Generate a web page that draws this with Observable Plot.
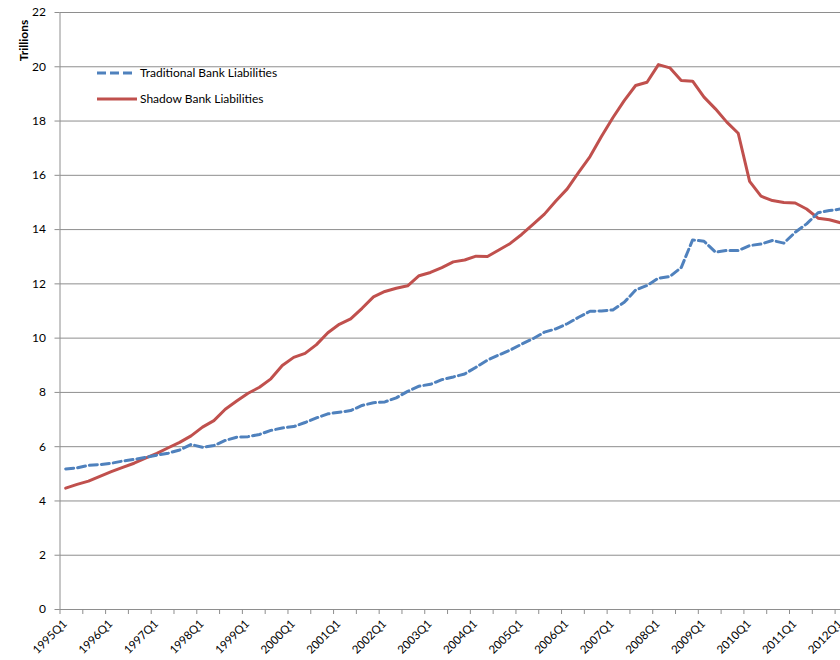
<!DOCTYPE html>
<html>
<head>
<meta charset="utf-8">
<script src="https://cdn.jsdelivr.net/npm/d3@7"></script>
<script src="https://cdn.jsdelivr.net/npm/@observablehq/plot@0.6"></script>
<style>
  html, body { margin: 0; padding: 0; background: #fff; }
  #wrap { width: 840px; height: 660px; overflow: hidden; position: relative; }
  #wrap svg { max-width: none !important; }
</style>
</head>
<body>
<div id="wrap"></div>
<script>
// ---- data ----
const startYear = 1995;
const quarterNames = ["Q1", "Q2", "Q3", "Q4"];
const traditional = [
  5.18, 5.22, 5.31, 5.34, 5.39, 5.47, 5.53, 5.61, 5.69, 5.76, 5.88, 6.08,
  5.98, 6.04, 6.23, 6.35, 6.37, 6.45, 6.60, 6.69, 6.74, 6.89, 7.06, 7.21,
  7.27, 7.33, 7.52, 7.62, 7.65, 7.80, 8.04, 8.23, 8.30, 8.47, 8.57, 8.68,
  8.93, 9.19, 9.38, 9.56, 9.78, 9.98, 10.22, 10.34, 10.53, 10.77, 10.99, 11.00,
  11.04, 11.32, 11.77, 11.94, 12.21, 12.27, 12.60, 13.62, 13.57, 13.17, 13.23, 13.23,
  13.41, 13.47, 13.60, 13.50, 13.90, 14.21, 14.62, 14.70, 14.76
];
const shadow = [
  4.47, 4.61, 4.73, 4.91, 5.08, 5.24, 5.39, 5.58, 5.75, 5.96, 6.16, 6.40,
  6.72, 6.96, 7.38, 7.68, 7.97, 8.19, 8.50, 8.99, 9.29, 9.44, 9.76, 10.20,
  10.51, 10.71, 11.10, 11.52, 11.72, 11.84, 11.93, 12.30, 12.42, 12.60, 12.81, 12.88,
  13.02, 13.01, 13.25, 13.49, 13.82, 14.19, 14.57, 15.05, 15.50, 16.11, 16.69, 17.43,
  18.12, 18.75, 19.31, 19.43, 20.08, 19.96, 19.49, 19.47, 18.88, 18.45, 17.96, 17.55,
  15.78, 15.23, 15.07, 15.00, 14.98, 14.76, 14.42, 14.36, 14.25
];
const categories = traditional.map((_, i) => `${startYear + Math.floor(i / 4)}${quarterNames[i % 4]}`);
const tickLabels = ["1995Q1","1996Q1","1997Q1","1998Q1","1999Q1","2000Q1","2001Q1","2002Q1","2003Q1",
  "2004Q1","2005Q1","2006Q1","2007Q1","2008Q1","2009Q1","2010Q1","2011Q1","2012Q1"];
const yTicks = [0, 2, 4, 6, 8, 10, 12, 14, 16, 18, 20, 22];
const seriesNames = ["Traditional Bank Liabilities", "Shadow Bank Liabilities"];

// ---- build table ----
const rows = [];
traditional.forEach((v, i) => rows.push({i, q: categories[i], value: v, series: seriesNames[0]}));
shadow.forEach((v, i) => rows.push({i, q: categories[i], value: v, series: seriesNames[1]}));
const labelIdx = tickLabels.map(t => categories.indexOf(t));
const boundaries = d3.range(-0.5, categories.length, 2);

const BLUE = "#4F81BD", RED = "#C0504D", GRID = "#8e8e8e";
const FONT = "Lato, 'Open Sans', sans-serif";

function legend(index, scales, values, dims) {
  const g = d3.create("svg:g").attr("font-family", FONT).attr("font-size", 12);
  const items = [
    {name: seriesNames[0], color: BLUE, dash: "9,4", len: 35, y: 73},
    {name: seriesNames[1], color: RED, dash: null, len: 40, y: 99}
  ];
  for (const it of items) {
    const x0 = dims.marginLeft + 37.5;
    g.append("line").attr("x1", x0).attr("x2", x0 + it.len).attr("y1", it.y).attr("y2", it.y)
      .attr("stroke", it.color).attr("stroke-width", 3).attr("stroke-dasharray", it.dash);
    g.append("text").attr("x", x0 + 43).attr("y", it.y).attr("dy", "0.35em")
      .attr("text-anchor", "start").attr("fill", "#000").text(it.name);
  }
  return g.node();
}

const chart = Plot.plot({
  width: 846,
  height: 660,
  marginLeft: 59.5,
  marginRight: 0,
  marginTop: 12,
  marginBottom: 51,
  style: {fontFamily: FONT, fontSize: "12px", color: "#000", background: "#fff", maxWidth: "none"},
  x: {type: "linear", domain: [-0.5, categories.length - 0.5], axis: null},
  y: {domain: [0, 22], axis: null},
  marks: [
    Plot.gridY(yTicks, {stroke: GRID, strokeOpacity: 1}),
    Plot.ruleX([-0.5], {stroke: GRID}),
    Plot.ruleY([0], {stroke: GRID}),
    Plot.axisY({ticks: yTicks, tickSize: 5, tickPadding: 9, label: null, stroke: GRID, fill: "#000", fontSize: 12}),
    Plot.axisX({ticks: boundaries, tickSize: 5, tickFormat: () => "", label: null, stroke: GRID}),
    Plot.text(labelIdx, {x: d => d, frameAnchor: "bottom", text: d => categories[d], rotate: -45,
      textAnchor: "end", dy: 15, dx: 2, fill: "#000", fontSize: 11.5}),
    Plot.text(["Trillions"], {frameAnchor: "top-left", rotate: -90, textAnchor: "middle", dx: -40.5, dy: 28,
      fontWeight: "bold", fontSize: 12, fill: "#000"}),
    Plot.line(rows.filter(d => d.series === seriesNames[1]), {x: "i", y: "value", stroke: RED, strokeWidth: 3, curve: "linear"}),
    Plot.line(rows.filter(d => d.series === seriesNames[0]), {x: "i", y: "value", stroke: BLUE, strokeWidth: 3,
      strokeDasharray: "8,4", curve: "linear"}),
    legend
  ]
});
document.getElementById("wrap").appendChild(chart);
</script>
</body>
</html>
